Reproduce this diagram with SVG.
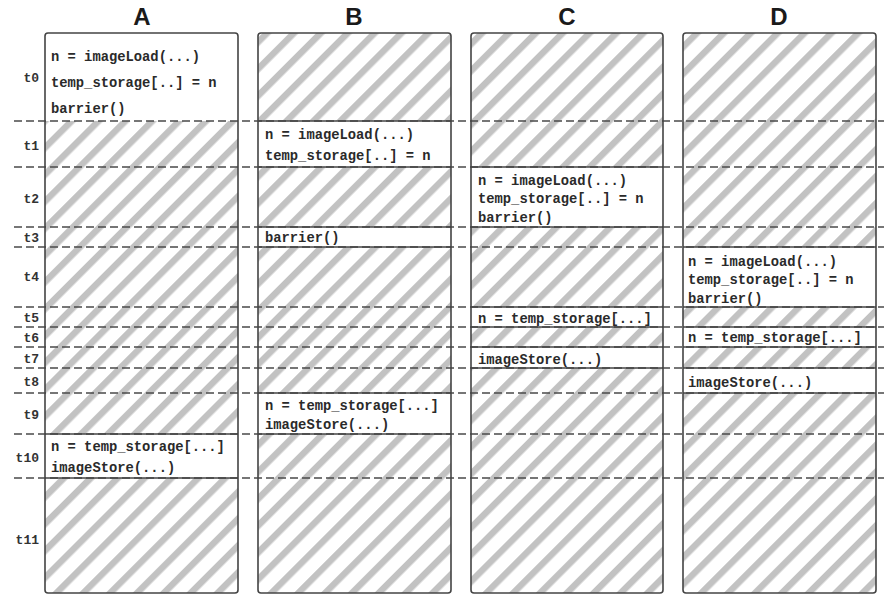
<svg xmlns="http://www.w3.org/2000/svg" width="895" height="604" viewBox="0 0 895 604">
<defs>
<pattern id="hatch" patternUnits="userSpaceOnUse" width="19" height="19" patternTransform="rotate(45)">
<rect x="0" y="0" width="19" height="19" fill="#ffffff"/>
<rect x="0" y="0" width="6.5" height="19" fill="#c2c2c2"/>
</pattern>
<style>
.hdr{font-family:"Liberation Sans",Arial,sans-serif;font-weight:bold;font-size:24px;fill:#1a1a1a;text-anchor:middle}
.lbl{font-family:"Liberation Mono","Courier New",monospace;font-weight:bold;font-size:13px;fill:#333;text-anchor:end}
.code{font-family:"Liberation Mono","Courier New",monospace;font-weight:bold;font-size:13.8px;fill:#2a2a2a}
.col{fill:url(#hatch);stroke:none}
.colb{fill:none;stroke:#444;stroke-width:1.6}
.cell{fill:#ffffff;stroke:none}
.dash{stroke:#4a4a4a;stroke-width:1.6;stroke-dasharray:8 4;fill:none}
.solid{stroke:#444;stroke-width:1.3;fill:none}
</style>
</defs>
<rect width="895" height="604" fill="#ffffff"/>

<g id="headers">
<text class="hdr" x="142" y="25">A</text>
<text class="hdr" x="354" y="25">B</text>
<text class="hdr" x="567" y="25">C</text>
<text class="hdr" x="779" y="25">D</text>
</g>

<g id="row-labels">
<text class="lbl" x="39" y="82">t0</text>
<text class="lbl" x="39" y="150">t1</text>
<text class="lbl" x="39" y="203">t2</text>
<text class="lbl" x="39" y="242">t3</text>
<text class="lbl" x="39" y="281">t4</text>
<text class="lbl" x="39" y="322">t5</text>
<text class="lbl" x="39" y="342">t6</text>
<text class="lbl" x="39" y="363">t7</text>
<text class="lbl" x="39" y="386">t8</text>
<text class="lbl" x="39" y="419">t9</text>
<text class="lbl" x="39" y="462">t10</text>
<text class="lbl" x="39" y="544">t11</text>
</g>

<g id="column-backgrounds">
<rect class="col" x="45" y="33" width="193" height="560" rx="3"/>
<rect class="col" x="258" y="33" width="193" height="560" rx="3"/>
<rect class="col" x="471" y="33" width="192" height="560" rx="3"/>
<rect class="col" x="683" y="33" width="193" height="560" rx="3"/>
</g>

<g id="cell-fills">
<rect class="cell" x="45" y="33" width="193" height="88"/>
<rect class="cell" x="45" y="434" width="193" height="44"/>
<rect class="cell" x="258" y="121" width="193" height="46"/>
<rect class="cell" x="258" y="227" width="193" height="20"/>
<rect class="cell" x="258" y="393" width="193" height="41"/>
<rect class="cell" x="471" y="167" width="192" height="60"/>
<rect class="cell" x="471" y="307" width="192" height="20"/>
<rect class="cell" x="471" y="347" width="192" height="21"/>
<rect class="cell" x="683" y="247" width="193" height="60"/>
<rect class="cell" x="683" y="327" width="193" height="20"/>
<rect class="cell" x="683" y="368" width="193" height="25"/>
</g>

<g id="connectors">
<line class="dash" x1="14" y1="121" x2="884" y2="121"/>
<line class="dash" x1="14" y1="167" x2="884" y2="167"/>
<line class="dash" x1="14" y1="227" x2="884" y2="227"/>
<line class="dash" x1="14" y1="247" x2="884" y2="247"/>
<line class="dash" x1="14" y1="307" x2="884" y2="307"/>
<line class="dash" x1="14" y1="327" x2="884" y2="327"/>
<line class="dash" x1="14" y1="347" x2="884" y2="347"/>
<line class="dash" x1="14" y1="368" x2="884" y2="368"/>
<line class="dash" x1="14" y1="393" x2="884" y2="393"/>
<line class="dash" x1="14" y1="434" x2="884" y2="434"/>
<line class="dash" x1="14" y1="478" x2="884" y2="478"/>
</g>

<g id="column-A">
<g id="A-t0">
<text class="code" x="51" y="61">n = imageLoad(...)</text>
<text class="code" x="51" y="87">temp_storage[..] = n</text>
<text class="code" x="51" y="113">barrier()</text>
</g>
<g id="A-t10">
<line class="solid" x1="45" y1="434" x2="238" y2="434"/>
<line class="solid" x1="45" y1="478" x2="238" y2="478"/>
<text class="code" x="51" y="451">n = temp_storage[...]</text>
<text class="code" x="51" y="472">imageStore(...)</text>
</g>
<rect class="colb" x="45" y="33" width="193" height="560" rx="3"/>
</g>

<g id="column-B">
<g id="B-t1">
<line class="solid" x1="258" y1="121" x2="451" y2="121"/>
<line class="solid" x1="258" y1="167" x2="451" y2="167"/>
<text class="code" x="265" y="139">n = imageLoad(...)</text>
<text class="code" x="265" y="160">temp_storage[..] = n</text>
</g>
<g id="B-t3">
<line class="solid" x1="258" y1="227" x2="451" y2="227"/>
<line class="solid" x1="258" y1="247" x2="451" y2="247"/>
<text class="code" x="265" y="242">barrier()</text>
</g>
<g id="B-t9">
<line class="solid" x1="258" y1="393" x2="451" y2="393"/>
<line class="solid" x1="258" y1="434" x2="451" y2="434"/>
<text class="code" x="265" y="410">n = temp_storage[...]</text>
<text class="code" x="265" y="429">imageStore(...)</text>
</g>
<rect class="colb" x="258" y="33" width="193" height="560" rx="3"/>
</g>

<g id="column-C">
<g id="C-t2">
<line class="solid" x1="471" y1="167" x2="663" y2="167"/>
<line class="solid" x1="471" y1="227" x2="663" y2="227"/>
<text class="code" x="478" y="185">n = imageLoad(...)</text>
<text class="code" x="478" y="203">temp_storage[..] = n</text>
<text class="code" x="478" y="222">barrier()</text>
</g>
<g id="C-t5">
<line class="solid" x1="471" y1="307" x2="663" y2="307"/>
<line class="solid" x1="471" y1="327" x2="663" y2="327"/>
<text class="code" x="478" y="323">n = temp_storage[...]</text>
</g>
<g id="C-t7">
<line class="solid" x1="471" y1="347" x2="663" y2="347"/>
<line class="solid" x1="471" y1="368" x2="663" y2="368"/>
<text class="code" x="478" y="364">imageStore(...)</text>
</g>
<rect class="colb" x="471" y="33" width="192" height="560" rx="3"/>
</g>

<g id="column-D">
<g id="D-t4">
<line class="solid" x1="683" y1="247" x2="876" y2="247"/>
<line class="solid" x1="683" y1="307" x2="876" y2="307"/>
<text class="code" x="688" y="266">n = imageLoad(...)</text>
<text class="code" x="688" y="284">temp_storage[..] = n</text>
<text class="code" x="688" y="303">barrier()</text>
</g>
<g id="D-t6">
<line class="solid" x1="683" y1="327" x2="876" y2="327"/>
<line class="solid" x1="683" y1="347" x2="876" y2="347"/>
<text class="code" x="688" y="342">n = temp_storage[...]</text>
</g>
<g id="D-t8">
<line class="solid" x1="683" y1="368" x2="876" y2="368"/>
<line class="solid" x1="683" y1="393" x2="876" y2="393"/>
<text class="code" x="688" y="387">imageStore(...)</text>
</g>
<rect class="colb" x="683" y="33" width="193" height="560" rx="3"/>
</g>
</svg>
